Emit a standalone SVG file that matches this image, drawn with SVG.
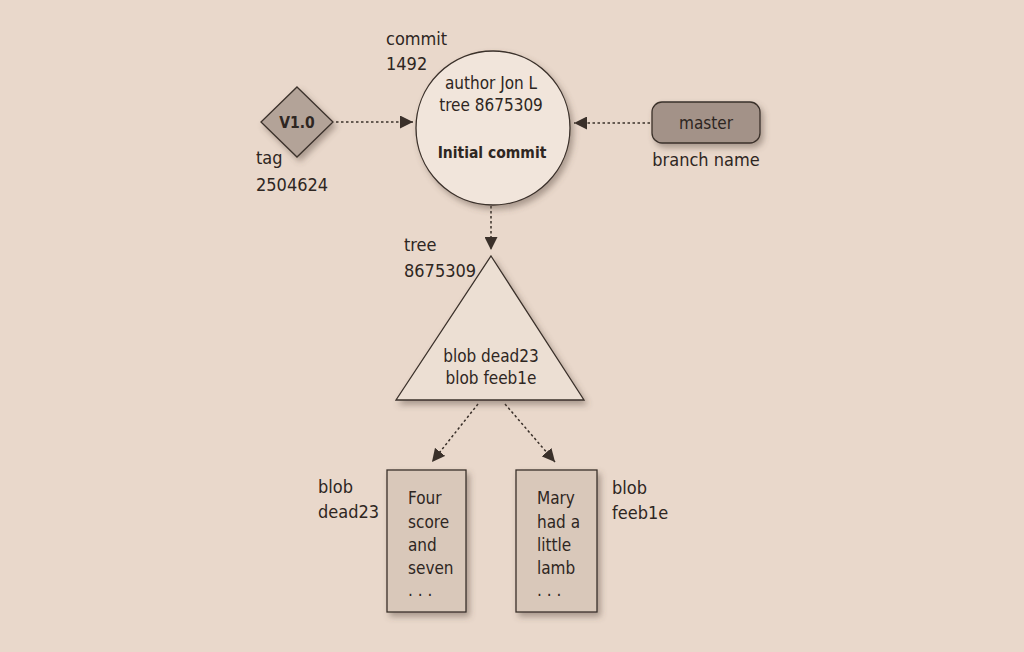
<svg xmlns="http://www.w3.org/2000/svg" width="1024" height="652" viewBox="0 0 1024 652">
<defs>
<filter id="sh" x="-20%" y="-20%" width="150%" height="150%">
<feDropShadow dx="3" dy="4" stdDeviation="3" flood-color="#5a4a40" flood-opacity="0.45"/>
</filter>
<marker id="ah" viewBox="0 0 10 10" refX="10" refY="5" markerWidth="13" markerHeight="13" markerUnits="userSpaceOnUse" orient="auto">
<path d="M0,0 L10,5 L0,10 Z" fill="#3a302a"/>
</marker>
<style>
text{font-family:"Liberation Sans Narrow","DejaVu Sans Condensed","Liberation Sans",sans-serif;font-size:18px;fill:#2e2622}
.c{text-anchor:middle}
.b{font-weight:bold}
.sm{font-size:17px}
.bs{font-size:15.5px;font-weight:bold}
.shape{stroke:#3a302a;stroke-width:1.3}
.conn{stroke:#3a302a;stroke-width:1.5;stroke-dasharray:2.5 2.5;fill:none}
</style>
</defs>
<rect width="1024" height="652" fill="#e9d8cb"/>
<g id="connectors">
<line class="conn" x1="336" y1="122" x2="413" y2="122" marker-end="url(#ah)"/>
<line class="conn" x1="650" y1="123" x2="574" y2="123" marker-end="url(#ah)"/>
<line class="conn" x1="491" y1="206" x2="491" y2="250" marker-end="url(#ah)"/>
<line class="conn" x1="478" y1="404" x2="432" y2="462" marker-end="url(#ah)"/>
<line class="conn" x1="505" y1="404" x2="555" y2="462" marker-end="url(#ah)"/>
</g>
<g id="commit">
<circle class="shape" cx="493" cy="128" r="77" fill="#f1e5db" filter="url(#sh)"/>
<text class="c sm" x="491" y="89">author Jon L</text>
<text class="c sm" x="491" y="111">tree 8675309</text>
<text class="c bs" x="492" y="158">Initial commit</text>
<text x="386" y="45">commit</text>
<text x="386" y="70">1492</text>
</g>
<g id="tag">
<polygon class="shape" points="297,87 333,122 297,157 261,122" fill="#b3a398" filter="url(#sh)"/>
<text class="c bs" x="297" y="128">V1.0</text>
<text x="256" y="164">tag</text>
<text x="256" y="191">2504624</text>
</g>
<g id="master">
<rect class="shape" x="652" y="102" width="108" height="41" rx="10" fill="#a39288" filter="url(#sh)"/>
<text class="c sm" x="706" y="129">master</text>
<text class="c" x="706" y="166">branch name</text>
</g>
<g id="tree">
<polygon class="shape" points="491,256 584,400 396,400" fill="#ecdfd3" filter="url(#sh)"/>
<text class="c sm" x="491" y="362">blob dead23</text>
<text class="c sm" x="491" y="384">blob feeb1e</text>
<text x="404" y="251">tree</text>
<text x="404" y="277">8675309</text>
</g>
<g id="blob-dead23">
<rect class="shape" x="387" y="470" width="79" height="142" fill="#d9c8ba" filter="url(#sh)"/>
<text class="sm" x="408" y="504">Four</text>
<text class="sm" x="408" y="528">score</text>
<text class="sm" x="408" y="551">and</text>
<text class="sm" x="408" y="574">seven</text>
<text class="sm" x="408" y="596">. . .</text>
<text x="318" y="493">blob</text>
<text x="318" y="518">dead23</text>
</g>
<g id="blob-feeb1e">
<rect class="shape" x="516" y="470" width="81" height="142" fill="#d9c8ba" filter="url(#sh)"/>
<text class="sm" x="537" y="504">Mary</text>
<text class="sm" x="537" y="528">had a</text>
<text class="sm" x="537" y="551">little</text>
<text class="sm" x="537" y="574">lamb</text>
<text class="sm" x="537" y="596">. . .</text>
<text x="612" y="494">blob</text>
<text x="612" y="519">feeb1e</text>
</g>
</svg>
